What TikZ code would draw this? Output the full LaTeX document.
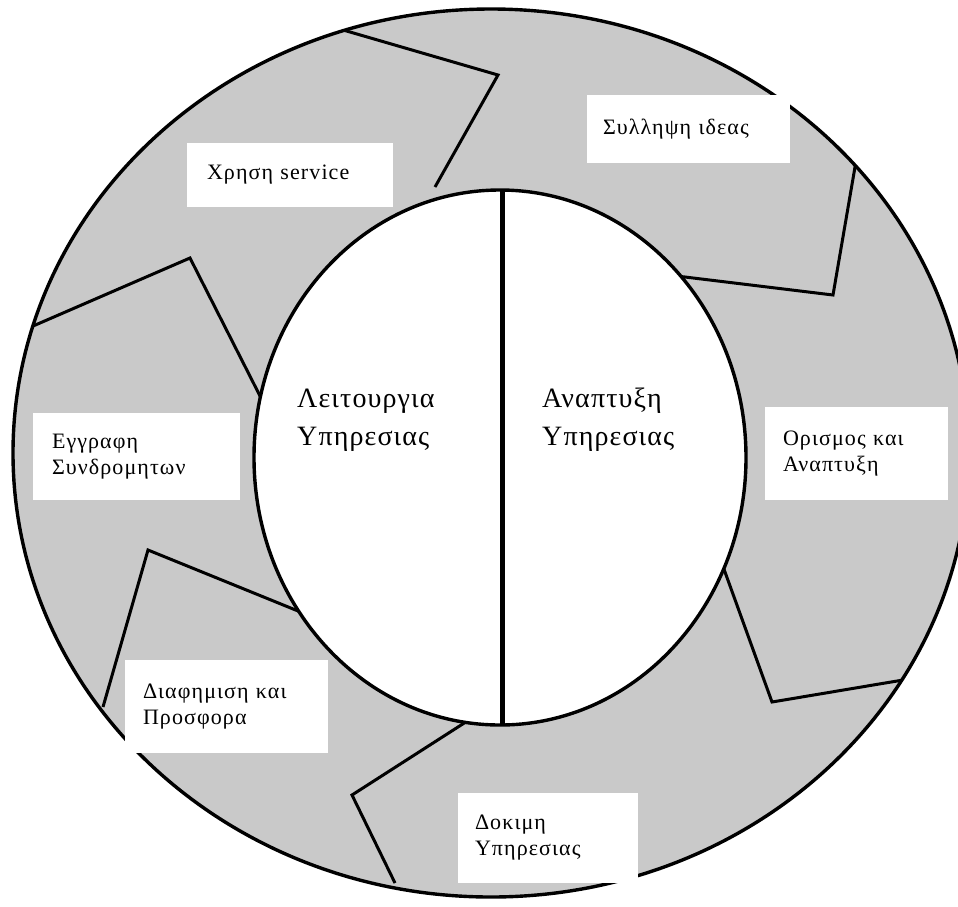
\documentclass[tikz,border=0pt]{standalone}
\usepackage{fontspec}
\setmainfont{Liberation Serif}
\newfontfamily\stagefont[LetterSpace=5]{Liberation Serif}
\newfontfamily\halffont[LetterSpace=4]{Liberation Serif}
\usetikzlibrary{calc}
\begin{document}
\begin{tikzpicture}[x=1pt,y=-1pt,
  ring/.style={fill=black!21},
  rim/.style={line width=3.4pt},
  chevron/.style={line width=3pt, line join=miter},
  divider/.style={line width=5pt},
  tag/.style={rectangle, fill=white, inner xsep=0pt, inner ysep=0pt,
    align=left, font=\stagefont\fontsize{22}{26}\selectfont},
  halflabel/.style={inner sep=0pt, align=left, anchor=base west,
    font=\halffont\fontsize{28}{38}\selectfont}]
\useasboundingbox (0,0) rectangle (958,906);

% centres of the two rings
\coordinate (oc) at (491,453);
\coordinate (ic) at (500,457.5);

% shaded outer band
\fill[ring] (oc) ellipse [x radius=478, y radius=444];

% the six bent arrows around the band
\coordinate (a1) at (350,32);  \coordinate (a2) at (498,75);  \coordinate (a3) at (435,187);
\coordinate (b1) at (855,167); \coordinate (b2) at (833,295); \coordinate (b3) at (685,277);
\coordinate (c1) at (40,323);  \coordinate (c2) at (190,258); \coordinate (c3) at (258,392);
\coordinate (d1) at (725,572); \coordinate (d2) at (772,702); \coordinate (d3) at (903,680);
\coordinate (e1) at (103,707); \coordinate (e2) at (148,550); \coordinate (e3) at (303,613);
\coordinate (f1) at (458,727); \coordinate (f2) at (352,795); \coordinate (f3) at (395,883);
\begin{scope}
  \clip (oc) ellipse [x radius=478, y radius=444];
  \draw[chevron] ($(a2)!1.08!(a1)$) -- (a2) -- (a3);
  \draw[chevron] ($(b2)!1.08!(b1)$) -- (b2) -- ($(b2)!1.06!(b3)$);
  \draw[chevron] ($(c2)!1.08!(c1)$) -- (c2) -- ($(c2)!1.06!(c3)$);
  \draw[chevron] ($(d2)!1.08!(d1)$) -- (d2) -- ($(d2)!1.08!(d3)$);
  \draw[chevron] (e1) -- (e2) -- ($(e2)!1.06!(e3)$);
  \draw[chevron] ($(f2)!1.08!(f1)$) -- (f2) -- (f3);
\end{scope}

% inner disc and outer rim
\filldraw[rim, fill=white] (ic) ellipse [x radius=246, y radius=267.5];
\draw[rim] (oc) ellipse [x radius=478, y radius=444];

% divider of the inner disc
\coordinate (vt) at (502,190);
\coordinate (vb) at (502,725);
\draw[divider] (vt) -- (vb);

% stage labels on white boxes
\node[tag, minimum width=206pt, minimum height=64pt, text width=166pt] (use)
  at (290,175) {Χρηση service};
\node[tag, minimum width=203pt, minimum height=68pt, text width=171pt] (idea)
  at (688.5,129) {Συλληψη ιδεας};
\node[tag, minimum width=207pt, minimum height=87pt, text width=169pt] (reg)
  at (136.5,456.5) {Εγγραφη\\Συνδρομητων};
\node[tag, minimum width=183pt, minimum height=93pt, text width=147pt] (def)
  at (856.5,453.5) {Ορισμος και\\Αναπτυξη};
\node[tag, minimum width=203pt, minimum height=93pt, text width=167pt] (adv)
  at (226.5,706.5) {Διαφημιση και\\Προσφορα};
\node[tag, minimum width=180pt, minimum height=90pt, text width=146pt] (test)
  at (548,838) {Δοκιμη\\Υπηρεσιας};

% the two halves of the inner disc
\node[halflabel] (ops) at (297,445) {Λειτουργια\\Υπηρεσιας};
\node[halflabel] (dev) at (542,445) {Αναπτυξη\\Υπηρεσιας};
\end{tikzpicture}
\end{document}
